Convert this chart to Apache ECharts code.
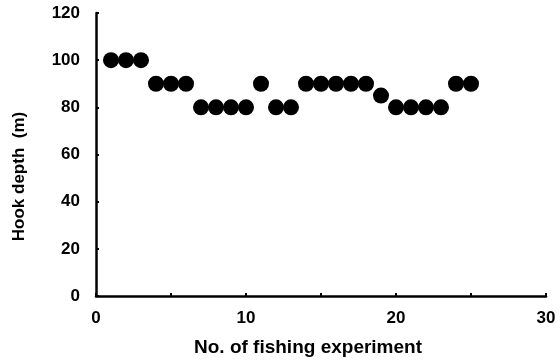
<!DOCTYPE html>
<html><head><meta charset="utf-8">
<script src="https://cdn.jsdelivr.net/npm/echarts@6/dist/echarts.min.js"></script>
<style>html,body{margin:0;padding:0;background:#fff}#c{width:560px;height:362px}</style>
</head><body><div id="c"></div>
<script>
const experiments = [1,2,3,4,5,6,7,8,9,10,11,12,13,14,15,16,17,18,19,20,21,22,23,24,25];
const hookDepth = [100,100,100,90,90,90,80,80,80,80,90,80,80,90,90,90,90,90,85,80,80,80,80,90,90];
const xTicks = [0,10,20,30];
const yTicks = [0,20,40,60,80,100,120];

const font = {fontFamily:'Liberation Sans, Arial, sans-serif', fontWeight:'bold', fontSize:17, color:'#000'};
const chart = echarts.init(document.getElementById('c'));
chart.setOption({
  animation:false,
  grid:{left:96,right:14,top:13,bottom:65},
  xAxis:{type:'value',min:0,max:30,interval:5,
    name:'No. of fishing experiment',nameLocation:'middle',nameGap:42,
    nameTextStyle:Object.assign({},font,{fontSize:19,padding:[0,26,0,0]}),
    axisLine:{lineStyle:{color:'#000',width:2.5}},
    axisTick:{inside:true,length:3,lineStyle:{color:'#000',width:2}},
    axisLabel:Object.assign({},font,{margin:14,formatter:v=>xTicks.includes(v)?String(v):''}),
    splitLine:{show:false}},
  yAxis:{type:'value',min:0,max:120,interval:20,
    name:'Hook depth  (m)',nameLocation:'middle',nameGap:68,nameRotate:90,
    nameTextStyle:Object.assign({},font,{fontSize:17,padding:[0,44,0,0]}),
    axisLine:{show:true,lineStyle:{color:'#000',width:2.5}},
    axisTick:{show:true,inside:true,length:3,lineStyle:{color:'#000',width:2}},
    axisLabel:Object.assign({},font,{margin:16,formatter:v=>yTicks.includes(v)?String(v):''}),
    splitLine:{show:false}},
  series:[{type:'scatter',symbol:'circle',symbolSize:16,
    itemStyle:{color:'#000',opacity:1},
    emphasis:{disabled:true},
    data:experiments.map((x,i)=>[x,hookDepth[i]])}]
});
</script></body></html>
